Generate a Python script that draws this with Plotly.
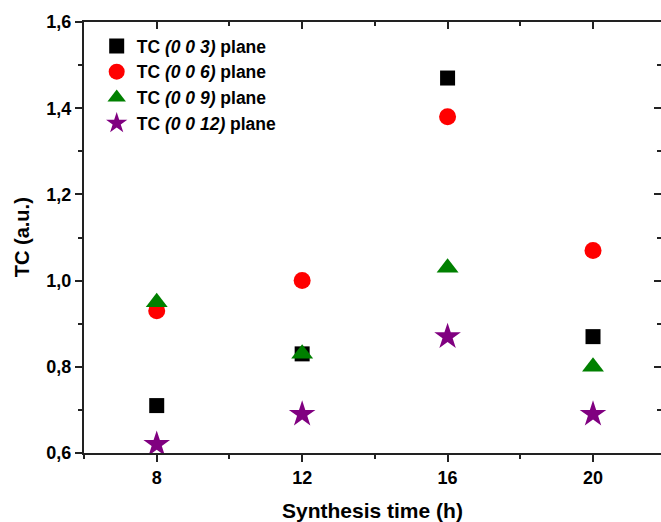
import plotly.graph_objects as go

synthesis_time = [8, 12, 16, 20]
tc_003 = [0.71, 0.83, 1.47, 0.87]
tc_006 = [0.93, 1.00, 1.38, 1.07]
tc_009 = [0.95, 0.83, 1.03, 0.80]
tc_0012 = [0.62, 0.69, 0.87, 0.69]
series_names = ["TC <i>(0 0 3)</i> plane", "TC <i>(0 0 6)</i> plane",
                "TC <i>(0 0 9)</i> plane", "TC <i>(0 0 12)</i> plane"]
x_ticks = [8, 12, 16, 20]
y_ticks = [0.6, 0.8, 1.0, 1.2, 1.4, 1.6]

FONT = "Liberation Sans, Arial, sans-serif"

fig = go.Figure()
specs = [
    (tc_003, "square", "#000000", 15),
    (tc_006, "circle", "#FF0000", 17),
    (tc_009, "triangle-up", "#008000", 19),
    (tc_0012, "star", "#800080", 20),
]
for (vals, sym, col, sz), name in zip(specs, series_names):
    fig.add_trace(go.Scatter(
        x=synthesis_time, y=vals, mode="markers", name="<b>" + name + "</b>",
        marker=dict(symbol=sym, color=col, size=sz, line=dict(width=0)),
    ))

# invisible trace for mirrored axes
fig.add_trace(go.Scatter(x=[8], y=[1.0], xaxis="x2", yaxis="y2", mode="markers",
                         marker=dict(opacity=0), showlegend=False, hoverinfo="skip"))

xr = [6, 21.87]
yr = [0.6, 1.6]
fig.update_layout(
    width=661, height=522,
    margin=dict(l=84, r=0, t=22, b=69),
    paper_bgcolor="white", plot_bgcolor="white",
    font=dict(family=FONT, size=17, color="#000000"),
    showlegend=True,
    legend=dict(x=0.022, y=0.986, xanchor="left", yanchor="top",
                bgcolor="rgba(0,0,0,0)", font=dict(size=17.5, family=FONT),
                itemwidth=30, tracegroupgap=0),
    xaxis=dict(range=xr, tickvals=x_ticks, ticktext=[f"<b>{v}</b>" for v in x_ticks],
               automargin=False,
               showgrid=False, zeroline=False, showline=True, linecolor="#222",
               linewidth=2, ticks="outside", ticklen=7, tickwidth=2, tickcolor="#222",
               minor=dict(ticks="outside", ticklen=4, tickwidth=2, dtick=2, tick0=0, tickcolor="#222"),
               tickfont=dict(size=18, family=FONT)),
    yaxis=dict(range=yr, tickvals=y_ticks,
               ticktext=["<b>" + f"{v:.1f}".replace(".", ",") + "</b>" for v in y_ticks],
               automargin=False,
               showgrid=False, zeroline=False, showline=True, linecolor="#222",
               linewidth=2, ticks="outside", ticklen=7, tickwidth=2, tickcolor="#222",
               minor=dict(ticks="outside", ticklen=4, tickwidth=2, dtick=0.1, tick0=0.6, tickcolor="#222"),
               tickfont=dict(size=18, family=FONT)),
    xaxis2=dict(range=xr, overlaying="x", side="top", anchor="y", tickvals=x_ticks,
                automargin=False,
                showticklabels=False, showgrid=False, zeroline=False, showline=True,
                linecolor="#222", linewidth=2, ticks="inside", ticklen=7, tickwidth=2, tickcolor="#222",
                minor=dict(ticks="inside", ticklen=4, tickwidth=2, dtick=2, tick0=0, tickcolor="#222")),
    yaxis2=dict(range=yr, overlaying="y", side="right", anchor="x", tickvals=y_ticks,
                automargin=False,
                showticklabels=False, showgrid=False, zeroline=False, showline=False,
                ticks="inside", ticklen=7, tickwidth=2, tickcolor="#222",
                minor=dict(ticks="inside", ticklen=4, tickwidth=2, dtick=0.1, tick0=0.6, tickcolor="#222")),
    annotations=[
        dict(text="<b>Synthesis time (h)</b>", xref="paper", yref="paper", x=0.5, y=-0.133,
             xanchor="center", yanchor="middle", showarrow=False, font=dict(size=21, family=FONT)),
        dict(text="<b>TC (a.u.)</b>", xref="paper", yref="paper", x=-0.108, y=0.5,
             xanchor="center", yanchor="middle", textangle=-90, showarrow=False,
             font=dict(size=20, family=FONT)),
    ],
)

fig.write_html("out.html", config={"displayModeBar": False},
               post_script="document.body.style.margin='0';document.body.style.overflow='hidden';")
